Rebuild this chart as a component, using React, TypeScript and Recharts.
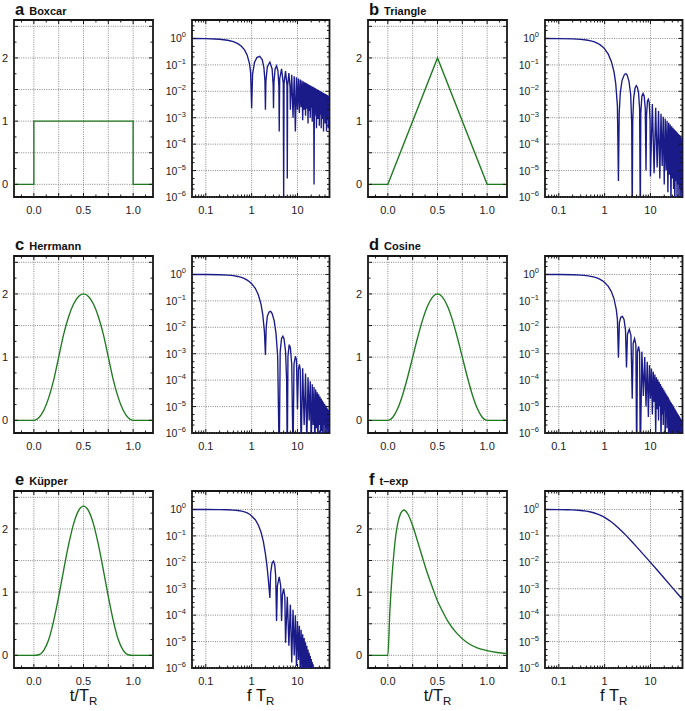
import React from 'react'
import { LineChart, Line, XAxis, YAxis, ReferenceLine, ReferenceArea } from 'recharts'

type Pair = [number, number]

// ---- time-domain pulses: [t/T_R, amplitude] ----
const boxcarT: Pair[] = [[-0.2, 0], [0, 0], [0, 1], [1, 1], [1, 0], [1.2, 0]]
const triangleT: Pair[] = [[-0.2, 0], [0, 0], [0.5, 2], [1, 0], [1.2, 0]]
const herrmannT: Pair[] = [
  [-0.2, 0], [0, 0], [0.05, 0.04], [0.1, 0.16], [0.15, 0.36], [0.2, 0.64], [0.25, 1.0], [0.3, 1.36],
  [0.35, 1.64], [0.4, 1.84], [0.45, 1.96], [0.5, 2.0], [0.55, 1.96], [0.6, 1.84], [0.65, 1.64],
  [0.7, 1.36], [0.75, 1.0], [0.8, 0.64], [0.85, 0.36], [0.9, 0.16], [0.95, 0.04], [1, 0], [1.2, 0],
]
const cosineT: Pair[] = [
  [-0.2, 0], [0, 0], [0.05, 0.05], [0.1, 0.19], [0.15, 0.41], [0.2, 0.69], [0.25, 1.0], [0.3, 1.31],
  [0.35, 1.59], [0.4, 1.81], [0.45, 1.95], [0.5, 2.0], [0.55, 1.95], [0.6, 1.81], [0.65, 1.59],
  [0.7, 1.31], [0.75, 1.0], [0.8, 0.69], [0.85, 0.41], [0.9, 0.19], [0.95, 0.05], [1, 0], [1.2, 0],
]
const kupperT: Pair[] = [
  [-0.2, 0], [0, 0], [0.05, 0.01], [0.1, 0.08], [0.15, 0.25], [0.2, 0.55], [0.25, 0.93], [0.3, 1.35],
  [0.35, 1.75], [0.4, 2.08], [0.45, 2.29], [0.5, 2.36], [0.55, 2.29], [0.6, 2.08], [0.65, 1.75],
  [0.7, 1.35], [0.75, 0.93], [0.8, 0.55], [0.85, 0.25], [0.9, 0.08], [0.95, 0.01], [1, 0], [1.2, 0],
]
const texpT: Pair[] = [
  [-0.2, 0], [0, 0], [0.02, 0.69], [0.04, 1.21], [0.06, 1.6], [0.08, 1.9], [0.1, 2.09], [0.13, 2.25],
  [0.16, 2.3], [0.2, 2.24], [0.25, 2.05], [0.3, 1.8], [0.35, 1.54], [0.4, 1.29], [0.45, 1.07],
  [0.5, 0.86], [0.55, 0.7], [0.6, 0.55], [0.7, 0.34], [0.8, 0.2], [0.9, 0.12], [1.0, 0.075],
  [1.1, 0.045], [1.2, 0.027],
]

// ---- amplitude spectra: [f T_R, |S|] ----
const boxcarS: Pair[] = [
  [0.05, 0.996], [0.1, 0.984], [0.2, 0.935], [0.3, 0.858], [0.4, 0.757], [0.5, 0.637], [0.6, 0.505],
  [0.7, 0.368], [0.8, 0.234], [0.9, 0.109], [0.95, 0.052], [1.0, 0.0023],
  [1.05, 0.045], [1.15, 0.12], [1.3, 0.19], [1.5, 0.212], [1.7, 0.16], [1.85, 0.08], [1.95, 0.026], [2.0, 0.002],
  [2.05, 0.024], [2.2, 0.085], [2.5, 0.127], [2.8, 0.07], [2.95, 0.017], [3.0, 0.0023],
  [3.07, 0.022], [3.25, 0.07], [3.5, 0.091], [3.75, 0.06], [3.93, 0.016], [4.0, 0.0003],
  [4.1, 0.03], [4.5, 0.071], [4.9, 0.02], [5.0, 5e-7],
  [5.1, 0.02], [5.5, 0.058], [5.9, 0.017], [6.0, 5e-6],
  [6.1, 0.016], [6.5, 0.049], [6.9, 0.014], [7.0, 0.002],
  [7.5, 0.042], [8.0, 0.001], [8.5, 0.037], [9.0, 0.0003], [9.5, 0.034], [10, 0.002],
  [10.5, 0.0303], [11, 0.0015], [11.5, 0.0277], [12, 0.0025], [12.5, 0.0255], [13, 0.0008],
  [13.5, 0.0236], [14, 0.002], [14.5, 0.022], [15, 0.0012], [15.5, 0.0205], [16, 0.0022],
  [16.5, 0.0193], [17, 0.0006], [17.5, 0.0182], [18, 0.0018], [18.5, 0.0172], [19, 0.001],
  [19.5, 0.0163], [20, 0.0024], [20.5, 0.0155], [21, 0.0007], [21.5, 0.0148], [22, 0.0016],
  [22.5, 0.0141], [23, 3e-6], [23.5, 0.0135], [24, 0.0012], [24.5, 0.013], [25, 0.002],
  [25.5, 0.0125], [26, 0.0004], [26.5, 0.012], [27, 0.0015], [27.5, 0.0116], [28, 0.0009],
  [28.5, 0.0112], [29, 0.0019], [29.5, 0.0108], [30, 0.0005], [30.5, 0.0104], [31, 0.0013],
  [31.5, 0.0101], [32, 0.0021], [32.5, 0.0098], [33, 0.0004], [33.5, 0.0095], [34, 0.0014],
  [34.5, 0.0092], [35, 0.0009], [35.5, 0.009], [36, 0.0018], [36.5, 0.0087], [37, 0.0003],
  [37.5, 0.0085], [38, 0.0012], [38.5, 0.0083], [39, 0.002], [39.5, 0.0081], [40, 0.0006],
  [40.5, 0.0079], [41, 0.0011], [41.5, 0.0077], [42, 0.0017], [42.5, 0.0075], [43, 0.0003],
  [43.5, 0.0073], [44, 0.0013], [44.5, 0.0072], [45, 0.0008], [45.5, 0.007], [46, 0.0016],
  [46.5, 0.0068], [47, 0.0004], [47.5, 0.0067], [48, 0.0012], [48.5, 0.0066], [49, 0.0007],
  [49.5, 0.0064], [50, 0.0015],
]
const triangleS: Pair[] = [
  [0.05, 0.998], [0.1, 0.992], [0.2, 0.967], [0.3, 0.928], [0.4, 0.875], [0.5, 0.811], [0.6, 0.737],
  [0.7, 0.658], [0.8, 0.573], [0.9, 0.488], [1.0, 0.405], [1.2, 0.255], [1.4, 0.136], [1.6, 0.055],
  [1.75, 0.019], [1.9, 0.0028], [2.0, 4e-6],
  [2.08, 0.0015], [2.2, 0.009], [2.4, 0.026], [2.7, 0.043], [2.9, 0.047], [3.1, 0.041], [3.4, 0.024],
  [3.7, 0.0075], [3.9, 0.0006], [4.0, 1e-7],
  [4.1, 0.0007], [4.3, 0.0055], [4.6, 0.013], [4.9, 0.0165], [5.2, 0.014], [5.5, 0.0085], [5.8, 0.0022], [6.0, 1e-7],
  [6.15, 0.0015], [6.5, 0.0065], [6.9, 0.0083], [7.3, 0.0065], [7.7, 0.0022], [8.0, 1e-5],
  [8.2, 0.0012], [8.6, 0.0043], [9.0, 0.005], [9.4, 0.0038], [9.8, 0.0008], [10, 6e-6],
  [11, 0.0033], [12, 8e-6], [13, 0.0024], [14, 1.3e-5], [15, 0.0018], [16, 5e-6], [17, 0.0014],
  [18, 1.5e-5], [19, 0.0011], [20, 3e-6], [21, 0.00092], [22, 1e-5], [23, 0.00077], [24, 1.5e-6],
  [25, 0.00065], [26, 7e-6], [27, 0.00056], [28, 5e-7], [29, 0.00048], [30, 5e-6], [31, 0.00042],
  [32, 2e-6], [33, 0.00037], [34, 4e-7], [35, 0.00033], [36, 4e-6], [37, 0.0003], [38, 8e-7],
  [39, 0.00027], [40, 3e-6], [41, 0.00024], [42, 3e-7], [43, 0.00022], [44, 2e-6], [45, 0.0002],
  [46, 5e-7], [47, 0.00018], [48, 1.5e-6], [49, 0.00017], [50, 4e-7],
]
const herrmannS: Pair[] = [
  [0.05, 1.0], [0.1, 0.995], [0.2, 0.975], [0.3, 0.94], [0.4, 0.9], [0.5, 0.84], [0.6, 0.77],
  [0.7, 0.69], [0.8, 0.61], [0.9, 0.53], [1.0, 0.45], [1.2, 0.3], [1.4, 0.17], [1.6, 0.075],
  [1.75, 0.03], [1.9, 0.007], [2.0, 0.0009],
  [2.08, 0.01], [2.2, 0.026], [2.4, 0.038], [2.6, 0.04], [2.8, 0.033], [3.1, 0.018], [3.4, 0.006],
  [3.7, 0.0008], [4.0, 1e-7],
  [4.2, 0.0012], [4.5, 0.0038], [4.8, 0.0046], [5.1, 0.0036], [5.5, 0.0012], [5.8, 0.0001], [6.0, 1e-7],
  [6.2, 0.0008], [6.6, 0.0022], [7.0, 0.0017], [7.5, 0.0004], [8.0, 1e-7],
  [8.4, 0.0004], [9.0, 0.0008], [9.5, 0.0006], [10, 8e-6],
  [10.5, 0.00025], [11, 0.0004], [11.5, 0.00025], [12, 2e-7],
  [13, 0.00028], [14, 2e-6], [15, 0.00018], [16, 4e-7], [17, 0.00013], [18, 3e-6], [19, 9e-5],
  [20, 3e-7], [21, 7e-5], [22, 2e-6], [23, 5.5e-5], [24, 2e-7], [25, 4.4e-5], [26, 1.5e-6],
  [27, 3.5e-5], [28, 3e-7], [29, 2.9e-5], [30, 2e-6], [31, 2.4e-5], [32, 4e-7], [33, 2e-5],
  [34, 1.2e-6], [35, 1.7e-5], [36, 3e-7], [37, 1.45e-5], [38, 2e-6], [39, 1.25e-5], [40, 4e-7],
  [41, 1.1e-5], [42, 1.5e-6], [43, 9.5e-6], [44, 3e-7], [45, 8.5e-6], [46, 2e-6], [47, 7.5e-6],
  [48, 5e-7], [49, 6.8e-6], [50, 1.2e-6],
]
const cosineS: Pair[] = [
  [0.05, 0.998], [0.1, 0.994], [0.2, 0.974], [0.3, 0.943], [0.4, 0.901], [0.5, 0.849], [0.6, 0.788],
  [0.7, 0.721], [0.8, 0.65], [0.9, 0.575], [1.0, 0.5], [1.2, 0.354], [1.4, 0.225], [1.6, 0.121],
  [1.8, 0.046], [1.9, 0.02], [2.0, 0.0007],
  [2.1, 0.015], [2.25, 0.024], [2.45, 0.026], [2.65, 0.02], [2.85, 0.008], [3.0, 0.0003],
  [3.15, 0.0055], [3.45, 0.0085], [3.75, 0.005], [4.0, 2e-5],
  [4.2, 0.0025], [4.5, 0.0037], [4.8, 0.0022], [5.0, 1e-7],
  [5.2, 0.0012], [5.5, 0.0019], [5.8, 0.0011], [6.0, 1e-7],
  [6.5, 0.0012], [7.0, 2.5e-5], [7.5, 0.00075], [8.0, 1e-5], [8.5, 0.0005], [9.0, 4e-6],
  [9.5, 0.00037], [10, 2e-5],
  [10.5, 0.000275], [11, 5e-6], [11.5, 0.00021], [12, 1.5e-5], [12.5, 0.000163], [13, 8e-7],
  [13.5, 0.00013], [14, 8e-6], [14.5, 0.000105], [15, 3e-6], [15.5, 8.6e-5], [16, 1e-5],
  [16.5, 7.1e-5], [17, 4e-7], [17.5, 5.9e-5], [18, 5e-6], [18.5, 5e-5], [19, 2e-6], [19.5, 4.3e-5],
  [20, 7e-6], [20.5, 3.7e-5], [21, 3e-7], [21.5, 3.2e-5], [22, 4e-6], [22.5, 2.8e-5], [23, 1.5e-6],
  [23.5, 2.45e-5], [24, 5e-6], [24.5, 2.2e-5], [25, 2e-7], [25.5, 1.9e-5], [26, 3e-6], [26.5, 1.7e-5],
  [27, 1e-6], [27.5, 1.5e-5], [28, 3.5e-6], [28.5, 1.37e-5], [29, 2e-7], [29.5, 1.24e-5], [30, 2e-6],
  [30.5, 1.12e-5], [31, 8e-7], [31.5, 1.02e-5], [32, 2e-6], [32.5, 9.3e-6], [33, 2e-7], [33.5, 8.4e-6],
  [34, 1.5e-6], [34.5, 7.7e-6], [35, 6e-7], [35.5, 7.1e-6], [36, 1.8e-6], [36.5, 6.5e-6], [37, 2e-7],
  [37.5, 6e-6], [38, 1.2e-6], [38.5, 5.6e-6], [39, 5e-7], [39.5, 5.2e-6], [40, 1.5e-6], [40.5, 4.8e-6],
  [41, 2e-7], [41.5, 4.5e-6], [42, 1e-6], [42.5, 4.2e-6], [43, 4e-7], [43.5, 3.9e-6], [44, 1.3e-6],
  [44.5, 3.6e-6], [45, 2e-7], [45.5, 3.4e-6], [46, 9e-7], [46.5, 3.2e-6], [47, 4e-7], [47.5, 3e-6],
  [48, 1.1e-6], [48.5, 2.8e-6], [49, 2e-7], [49.5, 2.6e-6], [50, 8e-7],
]
const kupperS: Pair[] = [
  [0.05, 1.0], [0.1, 0.998], [0.2, 0.99], [0.3, 0.975], [0.4, 0.95], [0.5, 0.915], [0.6, 0.87],
  [0.7, 0.81], [0.8, 0.74], [0.9, 0.66], [1.0, 0.57], [1.2, 0.41], [1.4, 0.26], [1.6, 0.14],
  [1.8, 0.062], [2.0, 0.021], [2.15, 0.008], [2.3, 0.0025], [2.42, 0.0009], [2.5, 0.00045],
  [2.6, 0.004], [2.8, 0.0095], [3.0, 0.011], [3.2, 0.008], [3.35, 0.003], [3.5, 6e-5],
  [3.65, 0.0013], [4.0, 0.0028], [4.3, 0.0013], [4.5, 6e-5],
  [4.7, 0.0006], [5.0, 0.001], [5.3, 0.0005], [5.5, 9e-6],
  [6.0, 0.0005], [6.5, 7e-6], [7.0, 0.00025], [7.5, 1.6e-6], [8.0, 0.00016], [8.5, 3e-6],
  [9.0, 0.0001], [9.5, 1.2e-6], [10, 6e-5], [10.5, 2e-6], [11, 4e-5], [11.5, 6e-7], [12, 2.8e-5],
  [12.5, 1e-6], [13, 1.9e-5], [13.5, 3e-7], [14, 1.35e-5], [14.5, 8e-7], [15, 9.5e-6], [15.5, 2e-7],
  [16, 7e-6], [16.5, 5e-7], [17, 5e-6], [17.5, 2e-7], [18, 3.8e-6], [18.5, 4e-7], [19, 2.9e-6],
  [19.5, 1e-7], [20, 2.2e-6], [20.5, 3e-7], [21, 1.7e-6], [21.5, 1e-7], [22, 1.4e-6], [22.5, 2e-7],
  [23, 1.1e-6], [23.5, 1e-7], [24, 9e-7], [25, 1e-7],
]
const texpS: Pair[] = [
  [0.05, 0.998], [0.1, 0.99], [0.15, 0.978], [0.2, 0.962], [0.3, 0.917], [0.4, 0.862], [0.5, 0.8],
  [0.6, 0.735], [0.7, 0.671], [0.8, 0.61], [1.0, 0.5], [1.3, 0.372], [1.6, 0.281], [2.0, 0.2],
  [2.5, 0.138], [3, 0.1], [4, 0.059], [5, 0.0385], [7, 0.02], [10, 0.0099], [14, 0.0051],
  [20, 0.0025], [30, 0.0011], [40, 0.00062], [50, 0.0004],
]

// ---- axes ----
const timeXDomain: Pair = [-0.2, 1.2]
const timeYDomain: Pair = [-0.2, 2.6]
const timeXTicks = [-0.125, 0, 0.125, 0.25, 0.375, 0.5, 0.625, 0.75, 0.875, 1, 1.125]
const timeXGrid = [0, 0.25, 0.5, 0.75, 1]
const timeXLabels = [0, 0.5, 1]
const timeYTicks = [0, 0.25, 0.5, 0.75, 1, 1.25, 1.5, 1.75, 2, 2.25, 2.5]
const timeYGrid = [0, 0.5, 1, 1.5, 2, 2.5]
const timeYLabels = [0, 1, 2]

const specXDomain: Pair = [0.05, 50]
const specYDomain: Pair = [1e-6, 5]
const specXGrid = [0.1, 1, 10]
const specXTicks = [0.06, 0.07, 0.08, 0.09, 0.1, 0.2, 0.3, 0.4, 0.5, 0.6, 0.7, 0.8, 0.9, 1, 2, 3, 4, 5, 6, 7, 8, 9, 10, 20, 30, 40]
const specYGrid = [1e-6, 1e-5, 1e-4, 1e-3, 1e-2, 1e-1, 1]
const specYTicks = [
  1e-6, 2e-6, 3e-6, 5e-6, 1e-5, 2e-5, 3e-5, 5e-5, 1e-4, 2e-4, 3e-4, 5e-4, 1e-3, 2e-3, 3e-3, 5e-3,
  1e-2, 2e-2, 3e-2, 5e-2, 1e-1, 0.2, 0.3, 0.5, 1, 2, 3,
]

const FONT = '"Liberation Sans", Arial, Helvetica, sans-serif'
const GREEN = '#1f7a1f'
const BLUE = '#1a1a88'
const GRID = '#7a7a7a'
const INK = '#161616'

const PH = 177
const YW = 34
const XH = 24
const PAD = 3

const has = (arr: number[], v: number) => arr.some((m) => Math.abs(m - v) / Math.abs(m || 1) < 1e-9)

function Panel({ kind, pairs, left, top, w, curve }: { kind: 'time' | 'spec'; pairs: Pair[]; left: number; top: number; w: number; curve: 'linear' | 'monotone' }) {
  const spec = kind === 'spec'
  const data = pairs.map(([x, y]) => ({ x, y }))
  const xl = YW
  const xr = YW + w
  const yt = PAD
  const yb = PAD + PH
  const xDomain = spec ? specXDomain : timeXDomain
  const yDomain = spec ? specYDomain : timeYDomain
  const xGrid = spec ? specXGrid : timeXGrid
  const yGrid = spec ? specYGrid : timeYGrid

  const xTick = (p: any) => {
    const v = p.payload.value
    const major = has(xGrid, v)
    const L = major ? 4 : 2.5
    let lab: string | null = null
    if (spec && major) lab = String(v)
    if (!spec && has(timeXLabels, v)) lab = v.toFixed(1)
    return (
      <g>
        <line x1={p.x} x2={p.x} y1={yb} y2={yb - L} stroke={INK} strokeWidth={1} />
        <line x1={p.x} x2={p.x} y1={yt} y2={yt + L} stroke={INK} strokeWidth={1} />
        {lab && (
          <text x={p.x} y={yb + 17} textAnchor="middle" fontSize={11} fontFamily={FONT} fill="#222">
            {lab}
          </text>
        )}
      </g>
    )
  }

  const yTick = (p: any) => {
    const v = p.payload.value
    const major = has(yGrid, v)
    const L = major ? 4 : 2.5
    let label: React.ReactNode = null
    if (spec && major) {
      const e = Math.round(Math.log10(v))
      label = (
        <text x={xl - 6} y={p.y + 4} textAnchor="end" fontSize={10.5} fontFamily={FONT} fill="#222">
          <tspan>10</tspan>
          <tspan dy={-5} fontSize={7.5}>{e === 0 ? '0' : '\u2212' + -e}</tspan>
        </text>
      )
    }
    if (!spec && has(timeYLabels, v)) {
      label = (
        <text x={xl - 6} y={p.y + 4} textAnchor="end" fontSize={11} fontFamily={FONT} fill="#222">
          {String(v)}
        </text>
      )
    }
    return (
      <g>
        <line x1={xl} x2={xl + L} y1={p.y} y2={p.y} stroke={INK} strokeWidth={1} />
        <line x1={xr} x2={xr - L} y1={p.y} y2={p.y} stroke={INK} strokeWidth={1} />
        {label}
      </g>
    )
  }

  return (
    <div style={{ position: 'absolute', left: left - YW, top: top - PAD }}>
      <LineChart width={YW + w + PAD} height={PAD + PH + XH} data={data} margin={{ top: PAD, right: PAD, left: 0, bottom: 0 }}>
        <XAxis
          dataKey="x"
          type="number"
          scale={spec ? 'log' : 'linear'}
          domain={xDomain}
          allowDataOverflow
          ticks={spec ? specXTicks : timeXTicks}
          interval={0}
          tick={xTick}
          tickLine={false}
          axisLine={false}
          tickSize={0}
          tickMargin={0}
          height={XH}
        />
        <YAxis
          type="number"
          scale={spec ? 'log' : 'linear'}
          domain={yDomain}
          allowDataOverflow
          ticks={spec ? specYTicks : timeYTicks}
          interval={0}
          tick={yTick}
          tickLine={false}
          axisLine={false}
          tickSize={0}
          tickMargin={0}
          width={YW}
        />
        {xGrid.map((v) => (
          <ReferenceLine key={'gx' + v} x={v} stroke={GRID} strokeDasharray="1 1.3" strokeWidth={0.9} />
        ))}
        {yGrid.map((v) => (
          <ReferenceLine key={'gy' + v} y={v} stroke={GRID} strokeDasharray="1 1.3" strokeWidth={0.9} />
        ))}
        <Line
          dataKey="y"
          type={curve}
          stroke={spec ? BLUE : GREEN}
          strokeWidth={1.35}
          dot={false}
          activeDot={false}
          isAnimationActive={false}
        />
        <ReferenceArea
          x1={xDomain[0]}
          x2={xDomain[1]}
          y1={yDomain[0]}
          y2={yDomain[1]}
          fill="none"
          fillOpacity={0}
          stroke={INK}
          strokeWidth={1.8}
          ifOverflow="visible"
        />
      </LineChart>
    </div>
  )
}

const COLS = [
  { t: 14, s: 192 },
  { t: 368, s: 545 },
]
const ROWS = [20, 255.5, 490.5]
const TW = 139
const SW = 137.5

const panels = [
  { letter: 'a', name: 'Boxcar', t: boxcarT, s: boxcarS, col: 0, row: 0, curve: 'linear' as const },
  { letter: 'b', name: 'Triangle', t: triangleT, s: triangleS, col: 1, row: 0, curve: 'linear' as const },
  { letter: 'c', name: 'Herrmann', t: herrmannT, s: herrmannS, col: 0, row: 1, curve: 'monotone' as const },
  { letter: 'd', name: 'Cosine', t: cosineT, s: cosineS, col: 1, row: 1, curve: 'monotone' as const },
  { letter: 'e', name: 'K\u00fcpper', t: kupperT, s: kupperS, col: 0, row: 2, curve: 'monotone' as const },
  { letter: 'f', name: 't\u2013exp', t: texpT, s: texpS, col: 1, row: 2, curve: 'monotone' as const },
]

export default function App() {
  return (
    <div style={{ position: 'absolute', left: 0, top: 0, width: 685, height: 711, background: '#fff', overflow: 'hidden', fontFamily: FONT }}>
      {panels.map((p) => (
        <React.Fragment key={p.letter}>
          <Panel kind="time" pairs={p.t} left={COLS[p.col].t} top={ROWS[p.row]} w={TW} curve={p.curve} />
          <Panel kind="spec" pairs={p.s} left={COLS[p.col].s} top={ROWS[p.row]} w={SW} curve="linear" />
        </React.Fragment>
      ))}
      <svg width={685} height={711} style={{ position: 'absolute', left: 0, top: 0, pointerEvents: 'none' }}>
        {panels.map((p) => (
          <text key={p.letter} x={COLS[p.col].t + 1} y={ROWS[p.row] - 5.5} fontFamily={FONT} fontWeight={700} fill="#111">
            <tspan fontSize={16.5}>{p.letter}</tspan>
            <tspan dx={5} fontSize={11}>{p.name}</tspan>
          </text>
        ))}
        {COLS.map((c, i) => (
          <g key={i}>
            <text x={c.t + TW / 2} y={701} textAnchor="middle" fontFamily={FONT} fontSize={16.5} fill="#111">
              t/T<tspan dy={4} fontSize={11.5}>R</tspan>
            </text>
            <text x={c.s + SW / 2} y={701} textAnchor="middle" fontFamily={FONT} fontSize={16.5} fill="#111">
              f T<tspan dy={4} fontSize={11.5}>R</tspan>
            </text>
          </g>
        ))}
      </svg>
    </div>
  )
}
